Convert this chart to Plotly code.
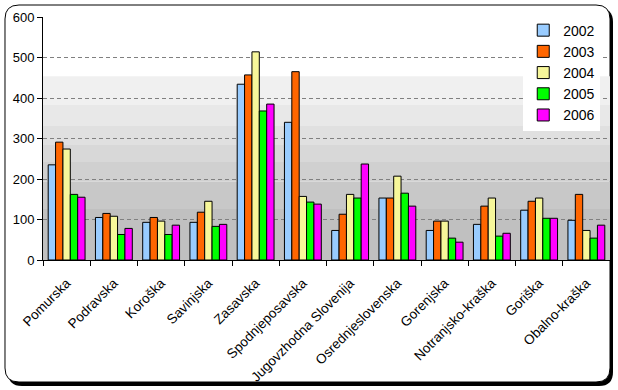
import plotly.graph_objects as go

categories = ["Pomurska", "Podravska", "Koroška", "Savinjska", "Zasavska",
              "Spodnjeposavska", "Jugovzhodna Slovenija", "Osrednjeslovenska",
              "Gorenjska", "Notranjsko-kraška", "Goriška", "Obalno-kraška"]
years = ["2002", "2003", "2004", "2005", "2006"]
v2002 = [235, 105, 93, 93, 434, 340, 73, 153, 73, 88, 123, 98]
v2003 = [291, 115, 105, 118, 457, 465, 113, 153, 96, 133, 145, 162]
v2004 = [274, 108, 96, 145, 514, 157, 162, 207, 96, 153, 153, 73]
v2005 = [162, 63, 63, 83, 368, 143, 153, 165, 54, 59, 103, 54]
v2006 = [155, 78, 86, 88, 385, 138, 237, 133, 44, 66, 103, 86]
series = [v2002, v2003, v2004, v2005, v2006]
colors = ["#99ccff", "#ff6600", "#f7f79a", "#00ff00", "#ff00ff"]

y_ticks = [0, 100, 200, 300, 400, 500, 600]
band_edges = [0, 126, 193, 242, 284, 331, 383, 454]
band_colors = ["#c0c0c0", "#c8c8c8", "#d0d0d0", "#d8d8d8", "#e0e0e0", "#e8e8e8", "#f0f0f0"]

W, H = 618, 390
ML, MR, MT, MB = 43, 8, 17, 130
PW = W - ML - MR
PH = H - MT - MB

def px(x, y):
    return (x - ML) / PW, (H - MB - y) / PH

def rounded_path(x0, y0, x1, y1, r):
    def P(x, y):
        a, b = px(x, y)
        return f"{a:.5f},{b:.5f}"
    s = f"M {P(x0 + r, y0)} L {P(x1 - r, y0)} Q {P(x1, y0)} {P(x1, y0 + r)} "
    s += f"L {P(x1, y1 - r)} Q {P(x1, y1)} {P(x1 - r, y1)} "
    s += f"L {P(x0 + r, y1)} Q {P(x0, y1)} {P(x0, y1 - r)} "
    s += f"L {P(x0, y0 + r)} Q {P(x0, y0)} {P(x0 + r, y0)} Z"
    return s

fig = go.Figure()
for name, vals, c in zip(years, series, colors):
    fig.add_trace(go.Bar(name=name, x=categories, y=vals,
                         marker=dict(color=c, line=dict(color="black", width=1))))

shapes = []
shapes.append(dict(type="path", xref="paper", yref="paper", layer="below",
                   path=rounded_path(8, 8, 613, 386, 14),
                   fillcolor="black", line=dict(width=0)))
shapes.append(dict(type="path", xref="paper", yref="paper", layer="below",
                   path=rounded_path(5, 5, 610, 382, 14),
                   fillcolor="white", line=dict(color="black", width=1)))
for i, col in enumerate(band_colors):
    shapes.append(dict(type="rect", xref="x domain", yref="y", layer="below",
                       x0=0, x1=1, y0=band_edges[i], y1=band_edges[i + 1],
                       fillcolor=col, line=dict(width=0)))

fig.update_layout(
    width=W, height=H,
    margin=dict(l=ML, r=MR, t=MT, b=MB, autoexpand=False),
    paper_bgcolor="white", plot_bgcolor="rgba(0,0,0,0)",
    font=dict(family="Liberation Sans, Arial", size=13, color="black"),
    barmode="group", bargap=0.22, bargroupgap=0,
    shapes=shapes,
    legend=dict(x=0.847, y=1.01, xanchor="left", yanchor="top",
                bgcolor="white", borderwidth=0, font=dict(size=14),
                tracegroupgap=0),
    xaxis=dict(type="category", tickangle=-45, tickfont=dict(size=13.5),
               ticks="outside", tickson="boundaries", ticklen=5, tickcolor="black",
               ticklabelstandoff=9, automargin=False,
               showline=True, linecolor="black", linewidth=1, showgrid=False),
    yaxis=dict(range=[0, 600], tickvals=y_ticks, ticks="outside", ticklen=5,
               tickcolor="black", showline=True, linecolor="black", linewidth=1,
               showgrid=True, gridcolor="#808080", griddash="4px,3px", gridwidth=1,
               zeroline=False, tickfont=dict(size=13), automargin=False),
)

fig.write_html("out.html", config={"displayModeBar": False},
               post_script="document.body.style.margin='0';")
